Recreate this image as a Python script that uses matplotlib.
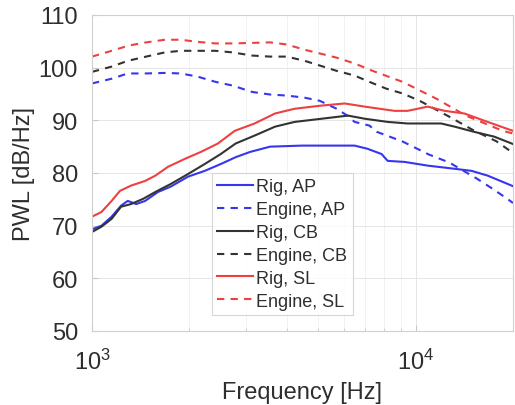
import matplotlib
matplotlib.use("Agg")
import matplotlib.pyplot as plt

plt.rcParams["font.family"] = ["Liberation Sans", "DejaVu Sans"]
plt.rcParams["mathtext.fontset"] = "custom"
plt.rcParams["mathtext.rm"] = "Liberation Sans"
plt.rcParams["mathtext.it"] = "Liberation Sans"

# Rig, AP (blue solid)
f_rig_ap = [1000, 1070, 1150, 1230, 1290, 1370, 1460, 1600, 1750, 1980, 2230, 2500, 2780, 3080,
            3550, 4450, 5350, 6480, 7100, 7850, 8200, 9250, 10900, 13200, 14900, 16700, 20000]
pwl_rig_ap = [69.3, 70.0, 71.7, 73.8, 74.7, 74.1, 74.7, 76.4, 77.4, 79.3, 80.4, 81.7, 83.0, 84.0,
              85.0, 85.2, 85.2, 85.2, 84.6, 83.6, 82.3, 82.1, 81.4, 80.8, 80.4, 79.5, 77.5]

# Engine, AP (blue dashed)
f_eng_ap = [1000, 1150, 1290, 1470, 1680, 1880, 2120, 2410, 2720, 3120, 3550, 4000, 4540, 5060,
            5700, 6150, 6480, 7200, 7600, 9100, 11000, 12700, 15400, 17300, 19200, 20000]
pwl_eng_ap = [97.0, 97.9, 98.9, 98.9, 99.0, 98.9, 98.3, 97.3, 96.6, 95.4, 94.9, 94.7, 94.3, 93.7,
              92.2, 90.9, 89.7, 89.0, 87.8, 86.0, 83.5, 82.0, 79.0, 77.0, 75.1, 74.3]

# Rig, CB (black solid)
f_rig_cb = [1000, 1070, 1150, 1230, 1320, 1440, 1570, 1750, 1980, 2230, 2500, 2780, 3180, 3680,
            4230, 5120, 6180, 6970, 8200, 9450, 10900, 12000, 13200, 15200, 17500, 20000]
pwl_rig_cb = [68.8, 69.8, 71.3, 73.6, 74.1, 75.1, 76.4, 77.9, 79.8, 81.7, 83.6, 85.6, 87.1, 88.8,
              89.7, 90.3, 90.9, 90.3, 89.7, 89.4, 89.4, 89.4, 88.8, 87.8, 86.9, 85.5]

# Engine, CB (black dashed)
f_eng_cb = [1000, 1150, 1290, 1470, 1680, 1880, 2120, 2410, 2720, 3120, 3550, 4000, 4540, 5060,
            5700, 6480, 7200, 8130, 9120, 10300, 12700, 15000, 17800, 20000]
pwl_eng_cb = [99.2, 100.2, 101.3, 102.1, 102.9, 103.2, 103.2, 103.2, 102.9, 102.3, 102.1, 102.1,
              101.3, 100.4, 99.4, 98.5, 97.3, 96.0, 95.1, 93.7, 90.7, 88.2, 86.0, 83.8]

# Rig, SL (red solid)
f_rig_sl = [1000, 1070, 1150, 1220, 1320, 1460, 1570, 1720, 1940, 2170, 2450, 2760, 3180, 3680,
            4230, 5120, 6040, 6970, 8600, 9450, 10900, 12300, 14150, 16700, 20000]
pwl_rig_sl = [71.7, 72.6, 74.7, 76.6, 77.6, 78.5, 79.5, 81.2, 82.7, 84.0, 85.6, 88.0, 89.4, 91.3,
              92.2, 92.8, 93.2, 92.6, 91.8, 91.8, 92.6, 91.8, 91.3, 89.7, 88.0]

# Engine, SL (red dashed)
f_eng_sl = [1000, 1150, 1300, 1470, 1680, 1880, 2120, 2410, 2720, 3550, 4000, 4540, 5060, 5700,
            6480, 7360, 9120, 11600, 14300, 18600, 20000]
pwl_eng_sl = [102.1, 103.2, 104.2, 104.8, 105.3, 105.3, 104.9, 104.6, 104.6, 104.8, 104.4, 103.4,
              102.7, 101.9, 100.8, 99.4, 97.3, 94.1, 90.9, 88.0, 87.5]

blue = "#3636ee"
black = "#333333"
red = "#ee4040"
dash = (3.5, 3.0)
txt = "#2e2e2e"

fig = plt.figure(figsize=(5.15, 4.06), dpi=100)
ax = fig.add_axes([0.1786, 0.1823, 0.8175, 0.7783])

ax.plot(f_rig_ap, pwl_rig_ap, color=blue, lw=1.5, label="Rig, AP")
ax.plot(f_eng_ap, pwl_eng_ap, color=blue, lw=1.5, dashes=dash, label="Engine, AP")
ax.plot(f_rig_cb, pwl_rig_cb, color=black, lw=1.5, label="Rig, CB")
ax.plot(f_eng_cb, pwl_eng_cb, color=black, lw=1.5, dashes=dash, label="Engine, CB")
ax.plot(f_rig_sl, pwl_rig_sl, color=red, lw=1.5, label="Rig, SL")
ax.plot(f_eng_sl, pwl_eng_sl, color=red, lw=1.5, dashes=dash, label="Engine, SL")

ax.set_xscale("log")
ax.set_xlim(1000, 20000)
ax.set_ylim(50, 110)
ax.set_yticks([50, 60, 70, 80, 90, 100, 110])
ax.set_xticks([1000, 10000])
ax.set_xticklabels([r"$10^3$", r"$10^4$"])

ax.grid(True, which="major", color="#e6e6e6", lw=0.7)
ax.grid(True, which="minor", axis="x", color="#f0f0f0", lw=0.6)
ax.set_axisbelow(True)
for s in ax.spines.values():
    s.set_color("#d0d0d0")
    s.set_linewidth(0.8)
ax.tick_params(which="both", direction="in", color="#c8c8c8", labelsize=17,
               labelcolor=txt, length=4)
ax.tick_params(axis="y", pad=10)
ax.tick_params(axis="x", pad=13)
ax.tick_params(which="minor", length=2.5)

ax.set_xlabel("Frequency [Hz]", fontsize=17, color=txt, labelpad=5)
ax.set_ylabel("PWL [dB/Hz]", fontsize=17, color=txt, labelpad=3)

leg = ax.legend(loc="lower left", bbox_to_anchor=(0.285, 0.05), fontsize=13,
                handlelength=2.0, handletextpad=0.15, labelspacing=0.33,
                borderpad=0.3, borderaxespad=0, frameon=True, fancybox=False)
leg.get_frame().set_edgecolor("#cccccc")
leg.get_frame().set_linewidth(0.8)
for t in leg.get_texts():
    t.set_color(txt)

fig.savefig("out.png", dpi=100)
